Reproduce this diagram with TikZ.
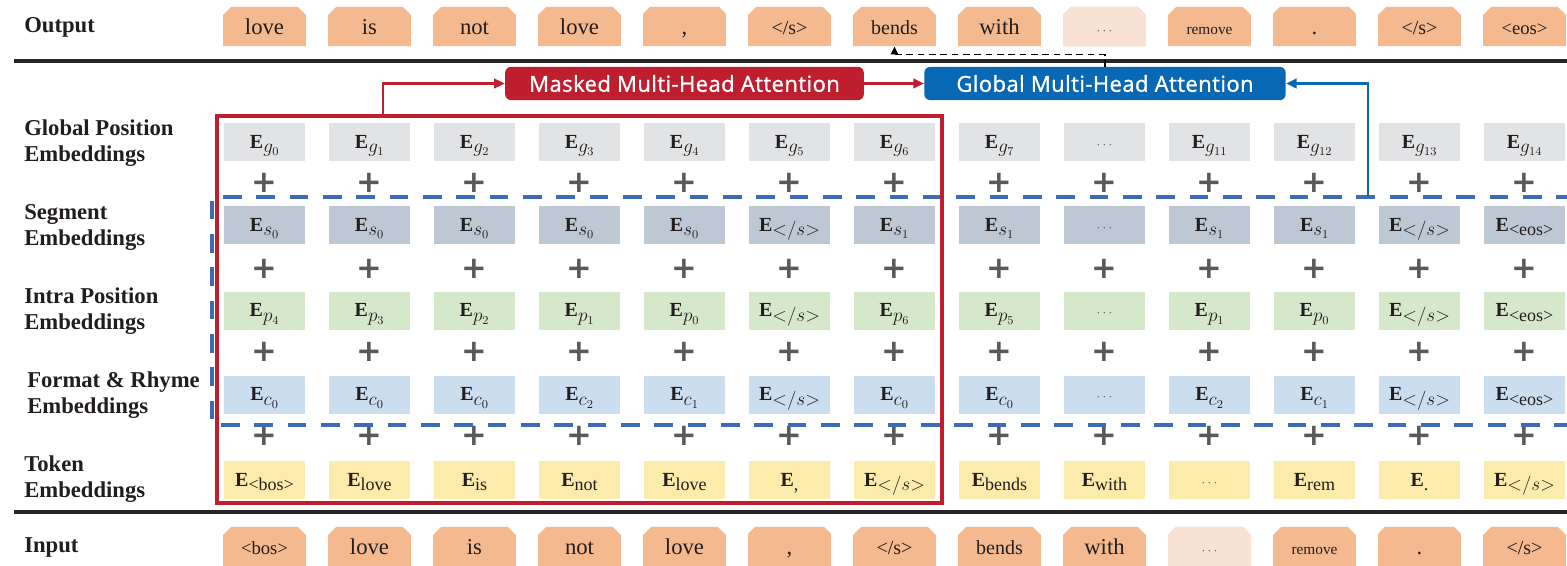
\documentclass[tikz,border=0pt]{standalone}
\usepackage{fontspec}
\setmainfont{Liberation Serif}
\newfontfamily\attnfont[FakeBold=1.2,LetterSpace=2]{Open Sans}
\newfontfamily\plusfont{DejaVu Sans}
\usetikzlibrary{shapes.misc,arrows.meta}
\definecolor{peach}{RGB}{244,185,143}
\definecolor{peachlt}{RGB}{249,226,211}
\definecolor{ggray}{RGB}{226,227,229}
\definecolor{sgray}{RGB}{190,200,213}
\definecolor{igreen}{RGB}{213,232,202}
\definecolor{fblue}{RGB}{202,222,240}
\definecolor{tyell}{RGB}{253,235,171}
\definecolor{attred}{RGB}{190,30,45}
\definecolor{attblue}{RGB}{8,104,180}
\definecolor{dashblue}{RGB}{61,107,182}
\definecolor{plusgray}{RGB}{89,89,89}
\definecolor{txt}{RGB}{34,30,30}
\newcommand{\Em}[1]{\textbf{E}\raisebox{-3.5pt}{\fontsize{13.5}{13.5}\selectfont #1}}
\newcommand{\dd}{{\fontsize{10}{10}\selectfont\color{plusgray}$\cdots$}}
\begin{document}
\begin{tikzpicture}[x=0.75pt,y=-0.75pt,
  outbox/.style={chamfered rectangle, chamfered rectangle corners={north west,north east},
    chamfered rectangle xsep=3pt, fill=peach, draw=none, minimum width=62pt,
    minimum height=29.5pt, inner sep=0pt, text height=13pt, text depth=0.5pt,
    text=txt, font=\fontsize{17}{17}\selectfont},
  ebox/.style={rectangle, draw=none, minimum width=61pt, minimum height=28.5pt, inner sep=0pt,
    text height=11pt, text depth=2pt, text=txt, font=\fontsize{15}{15}\selectfont},
  rowlabel/.style={anchor=west, align=left, inner sep=0pt, text=txt,
    font=\bfseries\fontsize{17}{19.5}\selectfont},
  plussign/.style={inner sep=0pt, text=plusgray, font=\plusfont\bfseries\fontsize{23}{23}\selectfont},
  attn/.style={rectangle, rounded corners=4.5pt, text=white, inner sep=0pt,
    minimum height=25pt, font=\attnfont\fontsize{16.5}{18}\selectfont},
  blackline/.style={line width=2.3pt, black!85},
  redline/.style={draw=attred, line width=2.3pt},
  redarrow/.style={draw=attred, line width=2pt, -{Triangle[length=8pt,width=7pt]}},
  bluearrow/.style={draw=attblue, line width=2pt, -{Triangle[length=8pt,width=7pt]}},
  dashbox/.style={draw=dashblue, line width=3pt, dash pattern=on 14pt off 11pt},
]
\useasboundingbox (0,0) rectangle (1567,565);
\fill[white] (0,0) rectangle (1567,565);

% row labels
\node[rowlabel] (lout) at (24,27) {Output};
\node[rowlabel] (lglob) at (24,143) {Global Position\\Embeddings};
\node[rowlabel] (lseg) at (24,227) {Segment\\Embeddings};
\node[rowlabel] (lintra) at (24,311) {Intra Position\\Embeddings};
\node[rowlabel] (lfmt) at (27,395) {Format \& Rhyme\\Embeddings};
\node[rowlabel] (ltok) at (24,479) {Token\\Embeddings};
\node[rowlabel] (linp) at (24,547) {Input};

% separator lines
\coordinate (topl) at (14,61);
\coordinate (topr) at (1567,61);
\coordinate (botl) at (14,512);
\coordinate (botr) at (1567,512);
\draw[blackline] (topl) -- (topr);
\draw[blackline] (botl) -- (botr);

% output row
\foreach \t [count=\i from 0] in {love,is,not,love,{,},{\fontsize{15}{15}\selectfont</s>},
  {\fontsize{15}{15}\selectfont bends},with,{\dd},{\fontsize{11.5}{12}\selectfont remove},.,
  {\fontsize{15}{15}\selectfont</s>},{\fontsize{14}{14}\selectfont<eos>}}
  \node[outbox] (out\i) at ({264.5+105*\i},26.5) {\t};
\node[outbox, fill=peachlt] (out8b) at (out8) {\dd};

% input row
\foreach \t [count=\i from 0] in {{\fontsize{14}{14}\selectfont<bos>},love,is,not,love,{,},
  {\fontsize{15}{15}\selectfont</s>},{\fontsize{15}{15}\selectfont bends},with,{\dd},
  {\fontsize{11.5}{12}\selectfont remove},.,{\fontsize{15}{15}\selectfont</s>}}
  \node[outbox] (in\i) at ({264.5+105*\i},546.5) {\t};
\node[outbox, fill=peachlt] (in9b) at (in9) {\dd};

% global position embeddings
\foreach \t [count=\i from 0] in {{\Em{$g_0$}},{\Em{$g_1$}},{\Em{$g_2$}},{\Em{$g_3$}},{\Em{$g_4$}},
  {\Em{$g_5$}},{\Em{$g_6$}},{\Em{$g_7$}},{\dd},{\Em{$g_{11}$}},{\Em{$g_{12}$}},{\Em{$g_{13}$}},{\Em{$g_{14}$}}}
  \node[ebox, fill=ggray] (g\i) at ({264.5+105*\i},142) {\t};

% segment embeddings
\foreach \t [count=\i from 0] in {{\Em{$s_0$}},{\Em{$s_0$}},{\Em{$s_0$}},{\Em{$s_0$}},{\Em{$s_0$}},
  {\Em{${<}/s{>}$}},{\Em{$s_1$}},{\Em{$s_1$}},{\dd},{\Em{$s_1$}},{\Em{$s_1$}},{\Em{${<}/s{>}$}},{\Em{<eos>}}}
  \node[ebox, fill=sgray] (s\i) at ({264.5+105*\i},225) {\t};

% intra position embeddings
\foreach \t [count=\i from 0] in {{\Em{$p_4$}},{\Em{$p_3$}},{\Em{$p_2$}},{\Em{$p_1$}},{\Em{$p_0$}},
  {\Em{${<}/s{>}$}},{\Em{$p_6$}},{\Em{$p_5$}},{\dd},{\Em{$p_1$}},{\Em{$p_0$}},{\Em{${<}/s{>}$}},{\Em{<eos>}}}
  \node[ebox, fill=igreen] (p\i) at ({264.5+105*\i},310.5) {\t};

% format & rhyme embeddings
\foreach \t [count=\i from 0] in {{\Em{$c_0$}},{\Em{$c_0$}},{\Em{$c_0$}},{\Em{$c_2$}},{\Em{$c_1$}},
  {\Em{${<}/s{>}$}},{\Em{$c_0$}},{\Em{$c_0$}},{\dd},{\Em{$c_2$}},{\Em{$c_1$}},{\Em{${<}/s{>}$}},{\Em{<eos>}}}
  \node[ebox, fill=fblue] (c\i) at ({264.5+105*\i},394.5) {\t};

% token embeddings
\foreach \t [count=\i from 0] in {{\Em{<bos>}},{\Em{love}},{\Em{is}},{\Em{not}},{\Em{love}},
  {\Em{,}},{\Em{${<}/s{>}$}},{\Em{bends}},{\Em{with}},{\dd},{\Em{rem}},{\Em{.}},{\Em{${<}/s{>}$}}}
  \node[ebox, fill=tyell] (t\i) at ({264.5+105*\i},480) {\t};

% plus signs
\foreach \i in {0,...,12} {
  \node[plussign] (pa\i) at ({264.5+105*\i},183) {+};
  \node[plussign] (pb\i) at ({264.5+105*\i},269) {+};
  \node[plussign] (pc\i) at ({264.5+105*\i},352) {+};
  \node[plussign] (pd\i) at ({264.5+105*\i},436) {+};
}

% dashed blue region
\coordinate (dtr) at (1575,197);
\coordinate (dtl) at (212,197);
\coordinate (dbl) at (212,425);
\coordinate (dbr) at (1575,425);
\draw[dashbox] (dtr) -- (dtl) -- (dbl) -- (dbr);

% red region
\coordinate (rtl) at (217,116);
\coordinate (rbr) at (942,503);
\draw[redline] (rtl) rectangle (rbr);

% attention boxes
\node[attn, fill=attred, minimum width=269pt] (mma) at (684.5,83.5) {Masked Multi-Head Attention};
\node[attn, fill=attblue, minimum width=271pt] (gma) at (1105,83.5) {Global Multi-Head Attention};

% connectors
\coordinate (rstart) at (383,116);
\draw[redarrow] (rstart) |- (mma.west);
\draw[redarrow] (mma.east) -- (gma.west);
\coordinate (bstart) at (1368,197);
\draw[bluearrow] (bstart) |- (gma.east);
\draw[black, line width=1.1pt, dash pattern=on 5pt off 3.5pt, -{Triangle[length=6pt,width=5.5pt]}]
  (gma.north) -- ++(0,-12) -| (out6.south);
\end{tikzpicture}
\end{document}
